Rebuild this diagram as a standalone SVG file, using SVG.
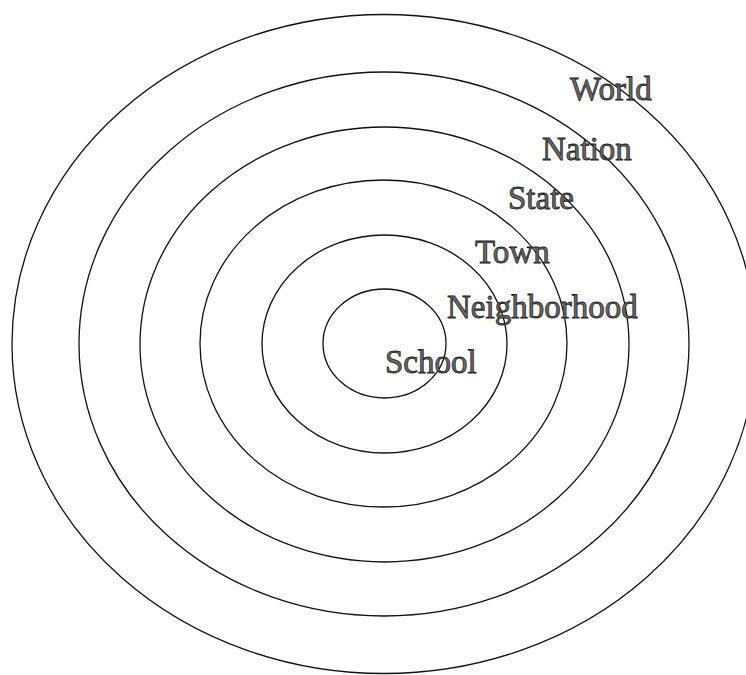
<svg xmlns="http://www.w3.org/2000/svg" width="746" height="675" viewBox="0 0 746 675">
<style>
.ring{fill:none;stroke:#111;stroke-width:1.3}
.lbl{font-family:"Liberation Serif","Times New Roman",serif;font-size:33px;fill:#6a6a6a;stroke:#222;stroke-width:0.8}
</style>
<rect width="746" height="675" fill="#fff"/>
<g id="world"><ellipse class="ring" cx="384" cy="344" rx="372" ry="329.5"/><text class="lbl" x="570" y="100">World</text></g>
<g id="nation"><ellipse class="ring" cx="384" cy="344" rx="305" ry="272"/><text class="lbl" x="542" y="160">Nation</text></g>
<g id="state"><ellipse class="ring" cx="384.5" cy="344.5" rx="244.5" ry="217.5"/><text class="lbl" x="508" y="209">State</text></g>
<g id="town"><ellipse class="ring" cx="383.5" cy="343.5" rx="183.5" ry="163.5"/><text class="lbl" x="475" y="263">Town</text></g>
<g id="neighborhood"><ellipse class="ring" cx="384.5" cy="344" rx="122.5" ry="109"/><text class="lbl" x="447" y="318">Neighborhood</text></g>
<g id="school"><ellipse class="ring" cx="384.5" cy="343.5" rx="61.5" ry="54.5"/><text class="lbl" x="385" y="373">School</text></g>
<g id="connectors"></g>
</svg>
